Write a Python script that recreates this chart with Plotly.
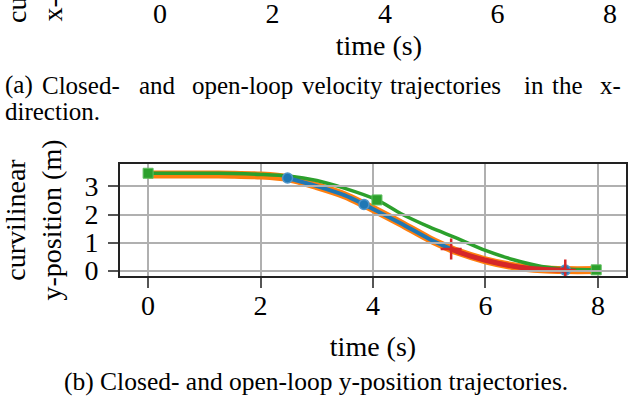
import plotly.graph_objects as go

# %% Data
# full closed-loop trajectory (thick orange)
t_full = [0.0, 0.5, 1.0, 1.5, 2.0, 2.48, 3.0, 3.5, 3.84, 4.0, 4.5, 5.0, 5.39, 5.5, 6.0, 6.5, 7.0, 7.42, 8.0]
y_full = [3.43, 3.43, 3.43, 3.42, 3.39, 3.30, 3.01, 2.68, 2.36, 2.20, 1.68, 1.13, 0.77, 0.68, 0.37, 0.16, 0.05, 0.02, 0.02]

# closed-loop segment (blue)
t_cl = [2.48, 3.0, 3.5, 3.84, 4.0, 4.5, 5.0, 5.39, 5.5, 6.0, 6.5, 7.0, 7.42]
y_cl = [3.30, 3.01, 2.68, 2.36, 2.20, 1.68, 1.13, 0.77, 0.68, 0.37, 0.16, 0.05, 0.02]
t_cl_mk = [2.48, 3.84, 7.42]
y_cl_mk = [3.30, 2.36, 0.02]

# second closed-loop segment (red)
t_cl2 = [5.39, 5.5, 6.0, 6.5, 7.0, 7.42]
y_cl2 = [0.77, 0.68, 0.37, 0.16, 0.05, 0.02]
t_cl2_mk = [5.39, 7.42]
y_cl2_mk = [0.77, 0.02]

# open-loop trajectory (green)
t_ol = [0.0, 0.5, 1.0, 1.5, 2.0, 2.5, 3.0, 3.5, 4.07, 4.5, 5.0, 5.5, 6.0, 6.5, 7.0, 7.5, 7.97]
y_ol = [3.47, 3.47, 3.47, 3.46, 3.43, 3.37, 3.21, 2.93, 2.52, 2.03, 1.56, 1.15, 0.72, 0.39, 0.15, 0.05, 0.03]
t_ol_mk = [0.0, 4.07, 7.97]
y_ol_mk = [3.47, 2.52, 0.03]

x_ticks = [0, 2, 4, 6, 8]
y_ticks = [0, 1, 2, 3]

caption_a1 = ["(a)", "Closed-", "and", "open-loop", "velocity", "trajectories", "in", "the", "x-"]
caption_a2 = "direction."
caption_b = "(b) Closed- and open-loop y-position trajectories."

# %% Layout helpers
W, H = 628, 398
ML, MR, MT, MB = 120, 2, 0, 122
PW, PH = W - ML - MR, H - MT - MB
def px(X):
    return (X - ML) / PW
def py(Y):
    return (PH - Y) / PH

FONT = "Liberation Serif"
BLUE, ORANGE, GREEN, RED = "#1f77b4", "#ff7f0e", "#2ca02c", "#d62728"

fig = go.Figure()

fig.add_trace(go.Scatter(x=t_full, y=y_full, mode="lines",
                         line=dict(color=ORANGE, width=8, shape="spline", smoothing=0.8)))
fig.add_trace(go.Scatter(x=t_ol, y=y_ol, mode="lines",
                         line=dict(color=GREEN, width=3.5, shape="spline", smoothing=0.8)))
fig.add_trace(go.Scatter(x=t_ol_mk, y=y_ol_mk, mode="markers",
                         marker=dict(symbol="square", size=10, color=GREEN, line=dict(color="#5fbf5f", width=1))))
fig.add_trace(go.Scatter(x=t_cl, y=y_cl, mode="lines",
                         line=dict(color=BLUE, width=4, shape="spline", smoothing=0.8)))
fig.add_trace(go.Scatter(x=t_cl_mk, y=y_cl_mk, mode="markers",
                         marker=dict(symbol="circle", size=10, color=BLUE, line=dict(color="#4f94c8", width=1.5))))
fig.add_trace(go.Scatter(x=t_cl2, y=y_cl2, mode="lines",
                         line=dict(color=RED, width=5, shape="spline", smoothing=0.8)))
fig.add_trace(go.Scatter(x=t_cl2_mk, y=y_cl2_mk, mode="markers",
                         marker=dict(symbol="cross-thin", size=15, color=RED, line=dict(color=RED, width=2.5))))
# axis of the figure above (only its bottom part is visible)
fig.add_trace(go.Scatter(x=[], y=[], xaxis="x2", yaxis="y", showlegend=False))

tick_font = dict(family=FONT, size=28, color="black")
fig.update_layout(
    width=W, height=H,
    margin=dict(l=ML, r=MR, t=MT, b=MB, autoexpand=False),
    paper_bgcolor="white", plot_bgcolor="rgba(0,0,0,0)",
    showlegend=False,
    font=dict(family=FONT, color="black"),
    xaxis=dict(range=[-0.5, 8.5], tickvals=x_ticks, ticks="outside", ticklen=10, tickwidth=1.5,
               tickcolor="#555", showgrid=True, gridcolor="#b0b0b0", gridwidth=1.5, zeroline=False,
               showline=True, linecolor="#222", linewidth=2, mirror=True, tickfont=tick_font,
               ticklabelstandoff=-7, automargin=False,
               title=dict(text="time (s)", font=dict(family=FONT, size=28), standoff=17)),
    yaxis=dict(domain=[0, py(164)], range=[-0.19, 3.8], tickvals=y_ticks, ticks="outside", ticklen=10,
               tickwidth=1.5, tickcolor="#555", showgrid=True, gridcolor="#b0b0b0", gridwidth=1.5,
               zeroline=False, showline=True, linecolor="#222", linewidth=2, mirror=True,
               tickfont=tick_font, ticklabelstandoff=4, automargin=False,
               title=dict(text="curvilinear<br>y-position (m)", font=dict(family=FONT, size=28), standoff=18)),
    xaxis2=dict(domain=[px(131.9), 1], range=[-0.5, 8.284], anchor="free", position=1, side="bottom",
                tickvals=x_ticks, ticks="", showgrid=False, zeroline=False, showline=False,
                tickfont=tick_font, ticklabelstandoff=-6, automargin=False,
                title=dict(text="time (s)", font=dict(family=FONT, size=28), standoff=7)),
)

# caption (a), justified word by word
word_x = [3, 40, 137, 190, 300, 388, 522, 550, 598]
for w, X in zip(caption_a1, word_x):
    fig.add_annotation(text=w, xref="paper", yref="paper", x=px(X), y=py(85), xanchor="left",
                       yanchor="middle", showarrow=False, font=dict(family=FONT, size=25))
fig.add_annotation(text=caption_a2, xref="paper", yref="paper", x=px(3), y=py(111), xanchor="left",
                   yanchor="middle", showarrow=False, font=dict(family=FONT, size=25))
fig.add_annotation(text=caption_b, xref="paper", yref="paper", x=px(316), y=py(381), xanchor="center",
                   yanchor="middle", showarrow=False, font=dict(family=FONT, size=25.5))
# cut-off y title of the figure above
fig.add_annotation(text="cu<br>x-", xref="paper", yref="paper", x=px(35), y=py(25), xanchor="center",
                   yanchor="bottom", textangle=-90, showarrow=False, font=dict(family=FONT, size=28))

# page body has a default 8px margin; remove it so the figure sits at the window corner
fig.write_html("out.html", config={"displayModeBar": False},
               post_script="document.body.style.margin='0px';")
